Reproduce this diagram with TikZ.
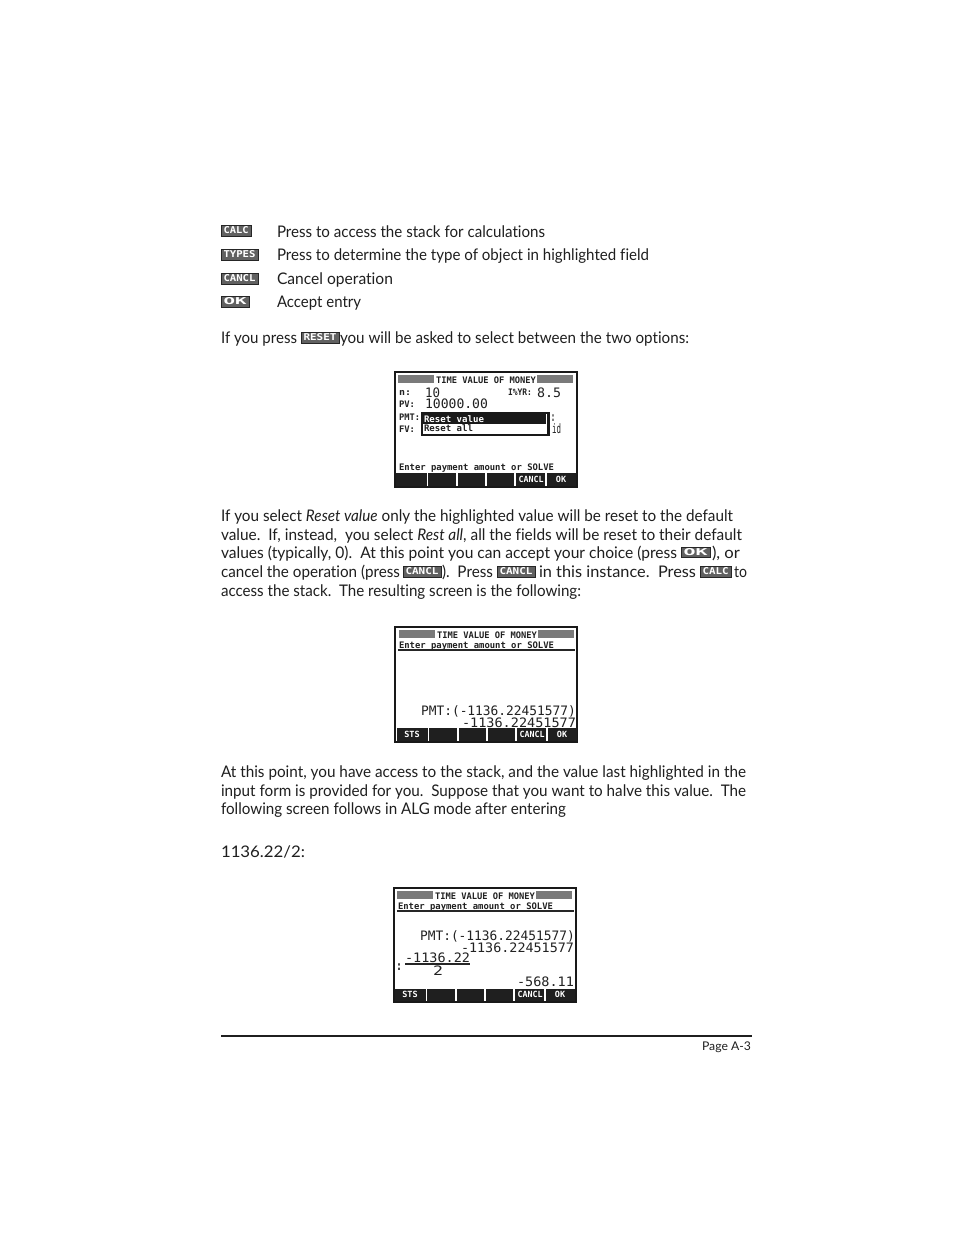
\documentclass[tikz,border=0pt]{standalone}
\usepackage{fontspec}
\usepackage{graphicx}
\setmainfont{Lato}[Ligatures=NoCommon]
\newfontfamily\lcdsmall{DejaVu Sans Mono}[BoldFont={DejaVu Sans Mono Bold}]
\newfontfamily\lcdbig{DejaVu Sans Mono}
\definecolor{ink}{gray}{0.12}
\definecolor{lcd}{gray}{0.13}
\tikzset{
  txt/.style={anchor=base west,inner sep=0pt,outer sep=0pt,text=ink,font=\fontsize{16}{18}\selectfont},
  lsmall/.style={anchor=base west,inner sep=0pt,outer sep=0pt,text=lcd,font=\lcdsmall\bfseries\fontsize{9}{10}\selectfont},
  lbig/.style={anchor=base west,inner sep=0pt,outer sep=0pt,text=lcd,font=\lcdbig\fontsize{13}{14}\selectfont},
  lcolon/.style={anchor=base west,inner sep=0pt,outer sep=0pt,text=lcd,font=\lcdsmall\bfseries\fontsize{13}{14}\selectfont},
  keylab/.style={inner sep=0pt,outer sep=0pt,text=white,font=\lcdsmall\bfseries\fontsize{8.5}{9}\selectfont},
  iconbox/.style={fill=black!62,draw=black!85,line width=0.8pt},
  iconlab/.style={inner sep=0pt,outer sep=0pt,text=white,font=\lcdsmall\bfseries\fontsize{8}{8}\selectfont},
  frameb/.style={draw=black!90,line width=2pt,fill=white},
  hatchb/.style={fill=black!52},
  keycell/.style={fill=black!88},
  lrule/.style={draw=black!85,line width=1.3pt}
}
% name, x, baseline y, right x, style, text
\newcommand{\tl}[6]{\node[#5] (#1) at (#2,#3) {\resizebox{\dimexpr#4pt-#2pt\relax}{\height}{#6}};}
% name, x0, y0, x1, y1, label
\newcommand{\ico}[6]{\draw[iconbox] (#2,#3) rectangle (#4,#5);
  \node[iconlab] (#1) at ({(#2+#4)/2},{(#3+#5)/2}) {\resizebox{\dimexpr#4pt-#2pt-5pt\relax}{7pt}{#6}};}
% softkeys: prefix, x offset, top y, bottom y, first label
\newcommand{\softkeys}[5]{
  \foreach \a/\b in {396/426.7,428.3/456,457.7/485,487/514.3,516.3/545,546.7/575.5}
    \fill[keycell] ({\a+#2},#3) rectangle ({\b+#2},#4);
  \node[keylab] (#1s) at ({411+#2},{(#3+#4)/2-0.5}) {#5};
  \node[keylab] (#1c) at ({531+#2},{(#3+#4)/2-0.5}) {\resizebox{25pt}{\height}{CANCL}};
  \node[keylab] (#1o) at ({561+#2},{(#3+#4)/2-0.5}) {OK};
}
% title: prefix, x offset, y top
\newcommand{\lcdtitle}[3]{
  \fill[hatchb] ({398+#2},#3) rectangle ({434+#2},{#3+8});
  \fill[hatchb] ({537+#2},#3) rectangle ({573+#2},{#3+8});
  \node[lsmall] (#1t) at ({436+#2},{#3+8}) {\resizebox{100pt}{\height}{TIME VALUE OF MONEY}};
}
\begin{document}
\begin{tikzpicture}[x=1pt,y=-1pt]
\useasboundingbox (0,0) rectangle (954,1235);
\fill[white] (0,0) rectangle (954,1235);

% legend
\ico{ia}{221}{225}{251}{236}{CALC}
\ico{ib}{221}{249}{258}{260}{TYPES}
\ico{ic}{221}{273}{258}{284}{CANCL}
\ico{id}{221}{296}{249}{307}{OK}
\tl{la}{277}{237}{545}{txt}{Press to access the stack for calculations}
\tl{lb}{277}{260}{649}{txt}{Press to determine the type of object in highlighted field}
\tl{lc}{277}{284}{393}{txt}{Cancel operation}
\tl{ld}{277}{307}{361}{txt}{Accept entry}

\tl{ra}{221}{343}{297}{txt}{If you press}
\ico{ie}{301}{332}{339}{343}{RESET}
\tl{rb}{340}{343}{689}{txt}{you will be asked to select between the two options:}

% screen 1
\draw[frameb] (395,372) rectangle (577,487);
\lcdtitle{sa}{0}{375}
\tl{sa1}{399}{395.5}{411}{lsmall}{n:}
\tl{sa2}{425}{397}{440}{lbig}{10}
\tl{sa3}{508}{395.5}{532}{lsmall}{I\%YR:}
\tl{sa4}{537}{397}{561}{lbig}{8.5}
\tl{sa5}{399}{407}{415}{lsmall}{PV:}
\tl{sa6}{425}{408.5}{488}{lbig}{10000.00}
\tl{sa7}{399}{420}{420}{lsmall}{PMT:}
\tl{sa8}{399}{432}{415}{lsmall}{FV:}
\fill[black!90] (421,412) rectangle (550,436);
\fill[white] (423,414) rectangle (547,433.5);
\fill[black!90] (423,414) rectangle (546,424);
\tl{sa9}{424}{422.5}{484}{lsmall,text=white}{Reset value}
\tl{sb1}{424}{431.5}{473}{lsmall}{Reset all}
\tl{sb2}{551}{421}{555}{lcolon}{:}
\tl{sb3}{552}{433}{561}{lbig}{id}
\tl{sb4}{399}{470.5}{554}{lsmall}{Enter payment amount or SOLVE}
\softkeys{sa}{0}{473}{486}{}

% para 1
\tl{pa}{221}{521}{733}{txt}{If you select \textit{Reset value} only the highlighted value will be reset to the default}
\tl{pb}{221}{540}{742}{txt}{value.\ \ If, instead,\ \ you select \textit{Rest all}, all the fields will be reset to their default}
\tl{pc}{221}{558}{677}{txt}{values (typically, 0).\ \ At this point you can accept your choice (press}
\ico{if}{681}{547}{710}{557}{OK}
\tl{pd}{712}{558}{740}{txt}{), or}
\tl{pe}{221}{577}{400}{txt}{cancel the operation (press}
\ico{ig}{403}{566}{441}{577}{CANCL}
\tl{pf}{442}{577}{493}{txt}{).\ \ Press}
\ico{ih}{497}{566}{535}{577}{CANCL}
\tl{pg}{539}{577}{696}{txt}{in this instance.\ \ Press}
\ico{ii}{700}{566}{731}{577}{CALC}
\tl{ph}{734}{577}{747}{txt}{to}
\tl{pi}{221}{596}{581}{txt}{access the stack.\ \ The resulting screen is the following:}

% screen 2
\draw[frameb] (395,627) rectangle (577,742);
\lcdtitle{sc}{1}{630}
\tl{sc1}{399}{648}{554}{lsmall}{Enter payment amount or SOLVE}
\draw[lrule] (398,650) -- (575,650);
\tl{sc2}{421}{715}{576}{lbig}{PMT:(-1136.22451577)}
\tl{sc3}{462}{727}{576}{lbig}{-1136.22451577}
\softkeys{sc}{1}{728}{741}{STS}

% para 2
\tl{qa}{221}{777}{746}{txt}{At this point, you have access to the stack, and the value last highlighted in the}
\tl{qb}{221}{796}{746}{txt}{input form is provided for you.\ \ Suppose that you want to halve this value.\ \ The}
\tl{qc}{221}{814}{566}{txt}{following screen follows in ALG mode after entering}
\tl{qd}{221}{857}{305}{txt}{1136.22/2:}

% screen 3
\draw[frameb] (394,888) rectangle (576,1002);
\lcdtitle{sd}{-1}{891}
\tl{sd1}{398}{909}{553}{lsmall}{Enter payment amount or SOLVE}
\draw[lrule] (397,911) -- (574,911);
\tl{sd2}{420}{940}{575}{lbig}{PMT:(-1136.22451577)}
\tl{sd3}{461}{952}{574}{lbig}{-1136.22451577}
\tl{sd4}{396}{970}{402}{lcolon}{:}
\tl{sd5}{405}{962}{470}{lbig}{-1136.22}
\draw[lrule] (405,964) -- (470,964);
\tl{sd6}{433}{975}{443}{lbig}{2}
\tl{sd7}{517}{986}{574}{lbig}{-568.11}
\softkeys{sd}{-1}{989}{1001}{STS}

% footer
\draw[line width=2pt,draw=ink] (221,1036) -- (752,1036);
\tl{fo}{702}{1050}{751}{txt,font=\fontsize{12}{14}\selectfont}{Page A-3}
\end{tikzpicture}
\end{document}
